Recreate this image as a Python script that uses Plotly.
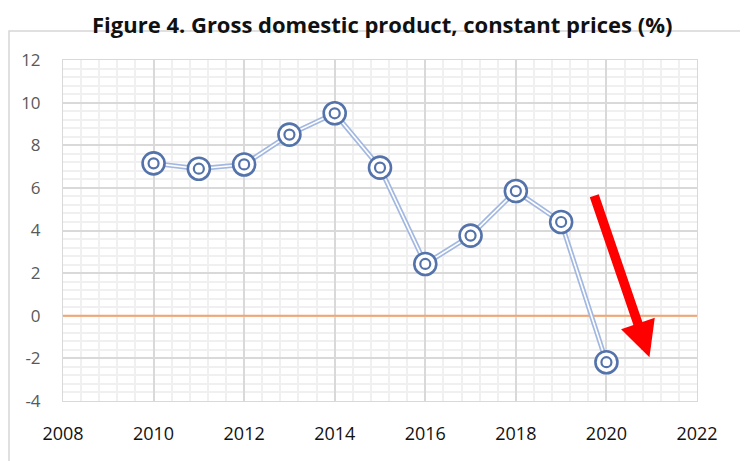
import plotly.graph_objects as go

years = [2010, 2011, 2012, 2013, 2014, 2015, 2016, 2017, 2018, 2019, 2020]
gdp = [7.15, 6.9, 7.1, 8.5, 9.5, 6.95, 2.43, 3.76, 5.85, 4.4, -2.18]
x_ticks = [2008, 2010, 2012, 2014, 2016, 2018, 2020, 2022]
y_ticks = [-4, -2, 0, 2, 4, 6, 8, 10, 12]
y_labels = ["-4", "-2", "0", "2", "4", "6", "8", "10", "12"]
arrow_from = [2019.72, 5.7]
arrow_to = [2020.95, -1.95]
title = "Figure 4. Gross domestic product, constant prices (%)"

# page body has an 8px margin, so the figure is sized to fit the window
W, H = 740, 453
L, R, T, B = 55, 51, 52, 60
PW, PH = W - L - R, H - T - B

fig = go.Figure()
fig.add_trace(go.Scatter(x=[2008, 2022], y=[0, 0], mode="lines",
                         line=dict(color="#f4a46c", width=2), hoverinfo="skip"))
fig.add_trace(go.Scatter(x=years, y=gdp, mode="lines",
                         line=dict(color="#a3b8e0", width=5), hoverinfo="skip"))
fig.add_trace(go.Scatter(x=years, y=gdp, mode="lines",
                         line=dict(color="white", width=1.6), hoverinfo="skip"))
fig.add_trace(go.Scatter(x=years, y=gdp, mode="markers",
                         marker=dict(symbol="circle", size=22, color="white",
                                     line=dict(color="#5473aa", width=2.6))))
fig.add_trace(go.Scatter(x=years, y=gdp, mode="markers",
                         marker=dict(symbol="circle-open", size=10, color="#5473aa",
                                     line=dict(color="#5473aa", width=2.2))))

fig.add_annotation(x=arrow_to[0], y=arrow_to[1], ax=arrow_from[0], ay=arrow_from[1],
                   xref="x", yref="y", axref="x", ayref="y", text="",
                   showarrow=True, arrowhead=2, arrowsize=0.75, arrowwidth=9.5,
                   arrowcolor="#ff0000", standoff=0)

fig.add_annotation(text="<b>" + title + "</b>", xref="paper", yref="paper",
                   x=(374 - L) / PW, y=1 + (T + 1) / PH, xanchor="center", yanchor="top",
                   showarrow=False, font=dict(family="Open Sans", size=22, color="#111111"))

fig.add_shape(type="rect", xref="paper", yref="paper",
              x0=-(L - 1) / PW, x1=1 + (R + 3) / PW,
              y0=-(B + 3) / PH, y1=1 + (T - 23) / PH,
              line=dict(color="#d6d6d6", width=1.5), layer="below")

fig.update_layout(
    width=W, height=H, margin=dict(l=L, r=R, t=T, b=B, autoexpand=False),
    paper_bgcolor="white", plot_bgcolor="white", showlegend=False,
    xaxis=dict(range=[2008, 2022], tickvals=x_ticks, showgrid=True,
               gridcolor="#d9d9d9", gridwidth=1.5, zeroline=False, automargin=False,
               showline=True, linecolor="#d9d9d9", mirror=True,
               minor=dict(dtick=0.4, tick0=2008, showgrid=True, gridcolor="#f0f0f0", gridwidth=1.5),
               ticks="", tickfont=dict(family="Open Sans", size=18, color="#111111"),
               ticklabelstandoff=16),
    yaxis=dict(range=[-4, 12], tickvals=y_ticks, ticktext=y_labels, showgrid=True,
               gridcolor="#d9d9d9", gridwidth=1.5, zeroline=False, automargin=False,
               showline=True, linecolor="#d9d9d9", mirror=True,
               minor=dict(dtick=0.4, tick0=-4, showgrid=True, gridcolor="#f0f0f0", gridwidth=1.5),
               ticks="", tickfont=dict(family="Open Sans", size=17, color="#595959"),
               ticklabelstandoff=18),
)
fig.write_html("out.html")
